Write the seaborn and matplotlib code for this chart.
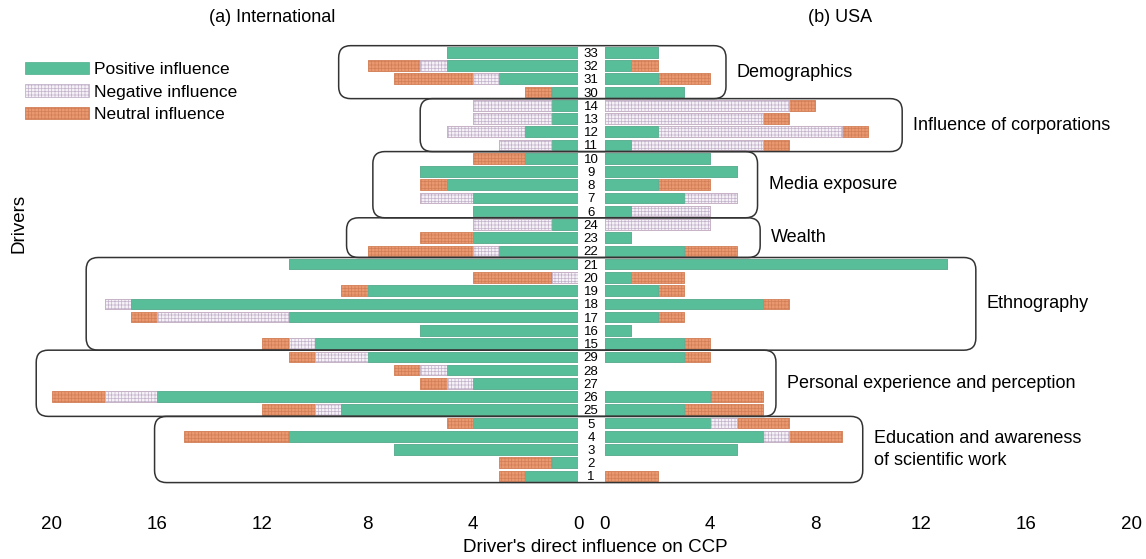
import numpy as np
import pandas as pd
import seaborn as sns
import matplotlib.pyplot as plt
from matplotlib.patches import FancyBboxPatch, Patch
from matplotlib.transforms import IdentityTransform

# driver ids, top to bottom
drivers = ['33', '32', '31', '30', '14', '13', '12', '11', '10', '9', '8', '7', '6',
           '24', '23', '22', '21', '20', '19', '18', '17', '16', '15',
           '29', '28', '27', '26', '25', '5', '4', '3', '2', '1']

# (a) International
int_pos = [5, 5, 3, 1, 1, 1, 2, 1, 2, 6, 5, 4, 4, 1, 4, 3, 11, 0, 8, 17, 11, 6, 10, 8, 5, 4, 16, 9, 4, 11, 7, 1, 2]
int_neg = [0, 1, 1, 0, 3, 3, 3, 2, 0, 0, 0, 2, 0, 3, 0, 1, 0, 1, 0, 1, 5, 0, 1, 2, 1, 1, 2, 1, 0, 0, 0, 0, 0]
int_neu = [0, 2, 3, 1, 0, 0, 0, 0, 2, 0, 1, 0, 0, 0, 2, 4, 0, 3, 1, 0, 1, 0, 1, 1, 1, 1, 2, 2, 1, 4, 0, 2, 1]

# (b) USA
usa_pos = [2, 1, 2, 3, 0, 0, 2, 1, 4, 5, 2, 3, 1, 0, 1, 3, 13, 1, 2, 6, 2, 1, 3, 3, 0, 0, 4, 3, 4, 6, 5, 0, 0]
usa_neg = [0, 0, 0, 0, 7, 6, 7, 5, 0, 0, 0, 2, 3, 4, 0, 0, 0, 0, 0, 0, 0, 0, 0, 0, 0, 0, 0, 0, 1, 1, 0, 0, 0]
usa_neu = [0, 1, 2, 0, 1, 1, 1, 1, 0, 0, 2, 0, 0, 0, 0, 2, 0, 2, 1, 1, 1, 0, 1, 1, 0, 0, 2, 3, 2, 2, 0, 0, 2]

# driver groups: label, first row, last row
group_names = ['Demographics', 'Influence of corporations', 'Media exposure', 'Wealth',
               'Ethnography', 'Personal experience and perception',
               'Education and awareness\nof scientific work']
group_rows = [(0, 3), (4, 7), (8, 12), (13, 15), (16, 22), (23, 27), (28, 32)]
# box reach on the left / right panel (axis units)
box_reach = [(9.1, 4.6), (6.0, 11.3), (7.8, 5.8), (8.8, 5.9), (18.7, 14.1), (20.6, 6.5), (16.1, 9.8)]

GREEN = '#58BE9A'
NEG = '#F5F1F7'
NEG_EDGE = '#C3B3CB'
ORANGE = '#EA986F'
ORANGE_EDGE = '#D27F57'

sns.set_style('white')
plt.rcParams['font.family'] = ['Liberation Sans', 'DejaVu Sans']
plt.rcParams['hatch.linewidth'] = 0.5
plt.rcParams['text.color'] = 'black'
plt.rcParams['xtick.color'] = 'black'
plt.rcParams['ytick.color'] = 'black'

fig = plt.figure(figsize=(11.46, 5.59), dpi=100)
ax_l = fig.add_axes([52 / 1146, 0.1367, 526 / 1146, 0.7816])
ax_r = fig.add_axes([605 / 1146, 0.1367, 526 / 1146, 0.7816])


def stacked(ax, pos, neg, neu):
    df = pd.DataFrame({'driver': drivers, 'pos': pos, 'neg': neg, 'neu': neu})
    df['pn'] = df['pos'] + df['neg']
    df['total'] = df['pn'] + df['neu']
    sns.barplot(data=df, x='total', y='driver', order=drivers, orient='h', color=ORANGE,
                saturation=1, width=0.8, edgecolor=ORANGE_EDGE, hatch='+++++', linewidth=0.6, ax=ax)
    sns.barplot(data=df, x='pn', y='driver', order=drivers, orient='h', color=NEG,
                saturation=1, width=0.8, edgecolor=NEG_EDGE, hatch='+++++', linewidth=0.6, ax=ax)
    sns.barplot(data=df, x='pos', y='driver', order=drivers, orient='h', color=GREEN,
                saturation=1, width=0.8, edgecolor='#4EAE8B', linewidth=0.5, ax=ax)
    for p in ax.patches:
        if p.get_width() == 0:
            p.set_visible(False)
    ax.set_ylim(len(drivers) - 0.5, -0.5)
    ax.set_xticks([0, 4, 8, 12, 16, 20])
    ax.tick_params(axis='x', length=0, pad=24, labelsize=13.5, labelcolor='black')
    ax.set_xlabel('')
    ax.set_ylabel('')
    sns.despine(ax=ax, left=True, bottom=True)


stacked(ax_l, int_pos, int_neg, int_neu)
stacked(ax_r, usa_pos, usa_neg, usa_neu)

ax_l.set_xlim(20, 0)
ax_l.set_yticks([])
ax_r.set_xlim(0, 20)
ax_r.tick_params(axis='y', length=0, pad=10, labelsize=9.5, labelcolor='black')
for t in ax_r.get_yticklabels():
    t.set_ha('center')

# group boxes across both panels
for name, (r0, r1), (xl, xr) in zip(group_names, group_rows, box_reach):
    x0 = ax_l.transData.transform((xl, 0))[0]
    x1 = ax_r.transData.transform((xr, 0))[0]
    ya = ax_r.transData.transform((0, r0 - 0.5))[1]
    yb = ax_r.transData.transform((0, r1 + 0.5))[1]
    y0, y1 = min(ya, yb), max(ya, yb)
    box = FancyBboxPatch((x0, y0), x1 - x0, y1 - y0,
                         boxstyle='round,pad=0,rounding_size=12',
                         facecolor='none', edgecolor='#333333', linewidth=1.1,
                         transform=IdentityTransform(), zorder=5)
    fig.add_artist(box)
    fig.text(x1 + 11, (y0 + y1) / 2, name, transform=IdentityTransform(),
             ha='left', va='center', fontsize=13, linespacing=1.33, color='black')

fig.text(272 / 1146, 1 - 18 / 559, '(a) International', ha='center', va='center', fontsize=13)
fig.text(840 / 1146, 1 - 18 / 559, '(b) USA', ha='center', va='center', fontsize=13)
fig.text(19 / 1146, 1 - 223 / 559, 'Drivers', rotation=90, ha='center', va='center', fontsize=13.5)
fig.text(595 / 1146, 1 - 548 / 559, "Driver's direct influence on CCP", ha='center', va='center', fontsize=13.5)

handles = [Patch(facecolor=GREEN, edgecolor='#4EAE8B', linewidth=0.5),
           Patch(facecolor=NEG, edgecolor=NEG_EDGE, hatch='+++++', linewidth=0.6),
           Patch(facecolor=ORANGE, edgecolor=ORANGE_EDGE, hatch='+++++', linewidth=0.6)]
fig.legend(handles, ['Positive influence', 'Negative influence', 'Neutral influence'],
           loc='upper left', bbox_to_anchor=(25 / 1146, 1 - 62 / 559), frameon=False,
           borderpad=0, borderaxespad=0, handlelength=3.7, handleheight=0.7,
           handletextpad=0.25, labelspacing=0.42, fontsize=12.5)

fig.savefig('out.png', dpi=100)
